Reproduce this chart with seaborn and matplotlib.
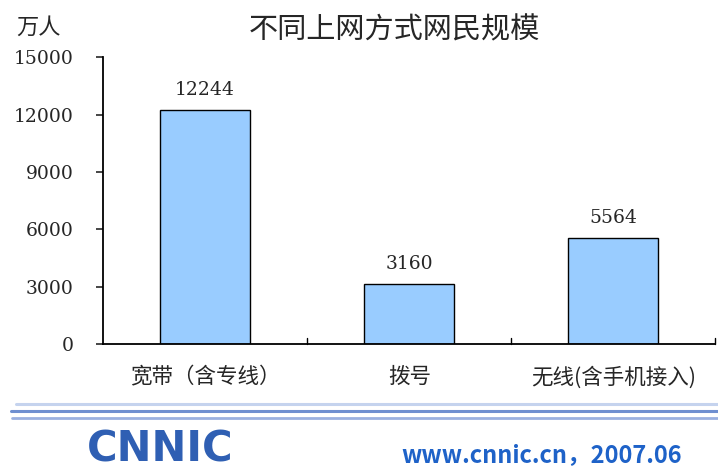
import matplotlib
matplotlib.use("Agg")
import matplotlib.pyplot as plt
from matplotlib.lines import Line2D
import seaborn as sns
import pandas as pd

# ------------------ Data ------------------
categories = ["宽带（含专线）", "拨号", "无线(含手机接入)"]
values = [12244, 3160, 5564]
yticks = [0, 3000, 6000, 9000, 12000, 15000]

sns.set_style("white")
plt.rcParams['font.family'] = ['Noto Sans CJK SC', 'DejaVu Sans']

df = pd.DataFrame({"方式": categories, "人数": values})

fig = plt.figure(figsize=(7.18, 4.72), dpi=100)
ax = fig.add_axes([0.1435, 0.271, 0.853, 0.608])

sns.barplot(data=df, x="方式", y="人数", color="#99CCFF", edgecolor="black",
            linewidth=1.0, width=0.44, saturation=1, ax=ax)

ax.set_xlim(-0.5, 2.5)
ax.set_ylim(0, 15000)
ax.set_yticks(yticks)
ax.set_yticklabels([str(t) for t in yticks], family="DejaVu Serif", fontsize=13.5)
ax.set_xlabel("")
ax.set_ylabel("")
ax.set_xticks([0, 1, 2])
ax.set_xticklabels(categories, fontsize=15.5)
ax.tick_params(axis="x", length=0, pad=16)
ax.tick_params(axis="y", direction="out", length=5, width=1.2, left=True, pad=16)

# category boundary ticks on the x axis
for b in [0.5, 1.5, 2.5]:
    ax.plot([b, b], [0, 300], color="black", lw=1.0, clip_on=False)

for s in ["top", "right"]:
    ax.spines[s].set_visible(False)
for s in ["left", "bottom"]:
    ax.spines[s].set_color("black")
    ax.spines[s].set_linewidth(1.3)

for i, v in enumerate(values):
    ax.text(i, v + 550, str(v), ha="center", va="bottom",
            family="DejaVu Serif", fontsize=13.5)

fig.text(0.549, 0.936, "不同上网方式网民规模", ha="center", va="center", fontsize=21)
fig.text(0.053, 0.943, "万人", ha="center", va="center", fontsize=16)

# footer lines
for x0, y, c, lw in [(0.022, 0.144, "#C5D3EE", 2.2), (0.015, 0.129, "#6F8FD0", 2.2),
                     (0.017, 0.114, "#9AB0E0", 2.0)]:
    fig.add_artist(Line2D([x0, 1.0], [y, y], color=c, lw=lw, transform=fig.transFigure))

fig.text(0.223, 0.048, "CNNIC", ha="center", va="center", fontsize=30,
         fontweight="bold", color="#2F5FB3", family="DejaVu Sans")
fig.text(0.754, 0.036, "www.cnnic.cn，2007.06", ha="center", va="center",
         fontsize=17, fontweight="bold", color="#1E62C8")

fig.savefig("out.png", dpi=100)
